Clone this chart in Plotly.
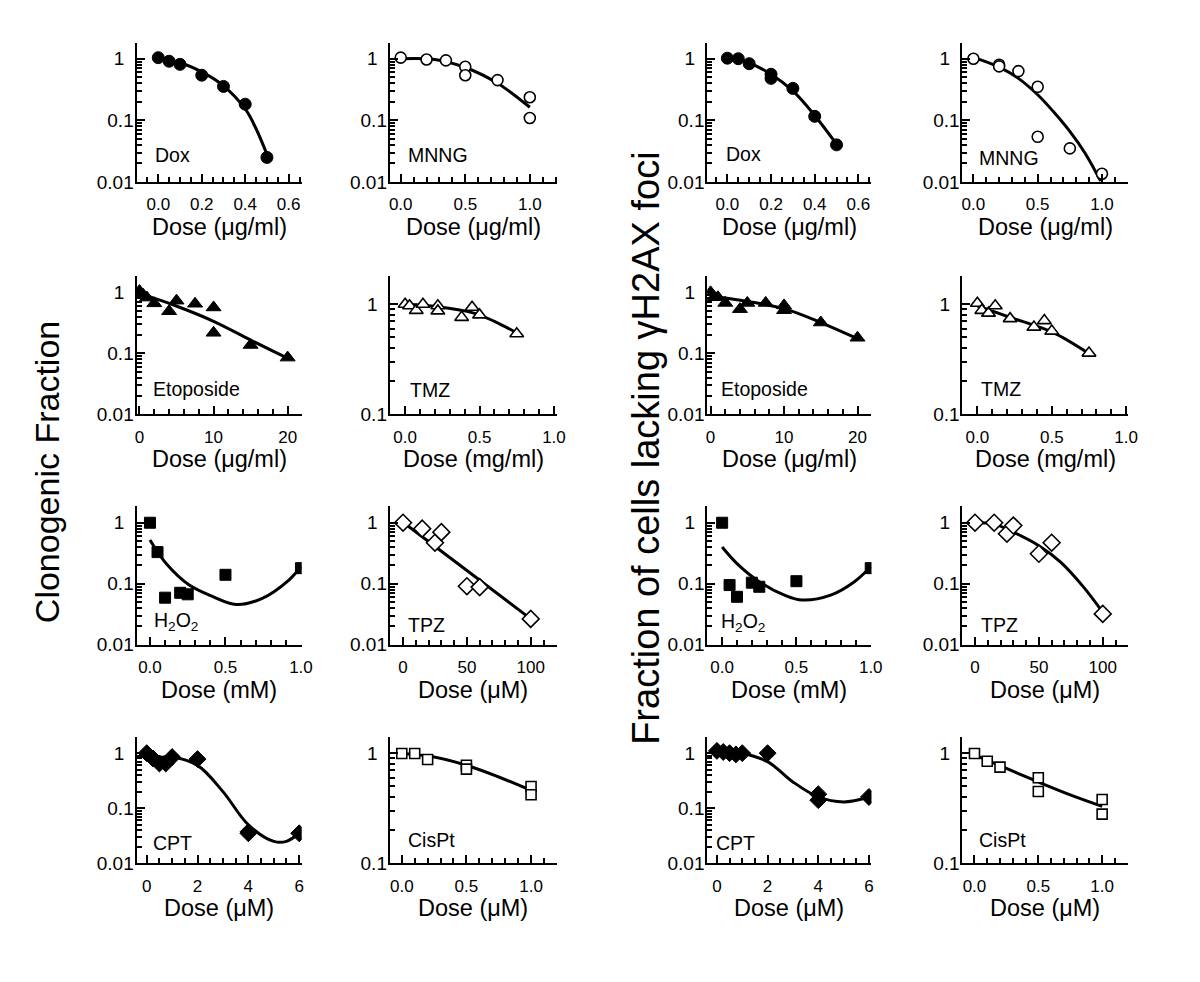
import plotly.graph_objects as go

FONT = "Liberation Sans, Arial, Helvetica, sans-serif"
W, H = 1200, 982

# ---------------- data ----------------
# Row 1 : Dox / MNNG
dox_clono_x = [0, 0.05, 0.1, 0.2, 0.3, 0.4, 0.5]
dox_clono_y = [1.04, 0.91, 0.81, 0.54, 0.355, 0.183, 0.025]
dox_clono_fit_x = [0, 0.1, 0.2, 0.3, 0.4, 0.45, 0.5]
dox_clono_fit_y = [1.0, 0.86, 0.61, 0.363, 0.153, 0.073, 0.028]

mnng_clono_x = [0, 0.2, 0.35, 0.5, 0.5, 0.75, 1.0, 1.0]
mnng_clono_y = [1.04, 0.97, 0.94, 0.74, 0.54, 0.45, 0.237, 0.109]
mnng_clono_fit_x = [0, 0.25, 0.5, 0.75, 1.0]
mnng_clono_fit_y = [1.0, 0.98, 0.72, 0.40, 0.163]

dox_gh2ax_x = [0, 0.05, 0.1, 0.2, 0.2, 0.3, 0.4, 0.5]
dox_gh2ax_y = [1.02, 1.0, 0.83, 0.56, 0.48, 0.33, 0.116, 0.04]
dox_gh2ax_fit_x = [0, 0.1, 0.2, 0.3, 0.4, 0.5]
dox_gh2ax_fit_y = [1.0, 0.85, 0.56, 0.30, 0.12, 0.041]

mnng_gh2ax_x = [0, 0.2, 0.2, 0.35, 0.5, 0.5, 0.75, 1.0]
mnng_gh2ax_y = [1.0, 0.80, 0.75, 0.63, 0.35, 0.054, 0.035, 0.0136]
mnng_gh2ax_fit_x = [0, 0.2, 0.35, 0.5, 0.62, 0.75, 0.87, 0.99]
mnng_gh2ax_fit_y = [1.05, 0.73, 0.48, 0.26, 0.14, 0.066, 0.029, 0.0103]

# Row 2 : Etoposide / TMZ
eto_clono_x = [0, 0.5, 1, 2, 4, 5, 7.5, 10, 10, 15, 20]
eto_clono_y = [1.05, 0.91, 0.82, 0.66, 0.49, 0.73, 0.65, 0.565, 0.217, 0.137, 0.085]
eto_clono_fit_x = [0, 4.6, 10, 15, 20]
eto_clono_fit_y = [0.96, 0.62, 0.335, 0.165, 0.083]

tmz_clono_x = [0, 0.03, 0.075, 0.12, 0.22, 0.22, 0.38, 0.45, 0.5, 0.75]
tmz_clono_y = [1.0, 0.97, 0.88, 1.0, 0.97, 0.87, 0.76, 0.94, 0.80, 0.54]
tmz_clono_fit_x = [0, 0.22, 0.45, 0.6, 0.75]
tmz_clono_fit_y = [1.0, 0.95, 0.84, 0.70, 0.55]

eto_gh2ax_x = [0, 0.5, 1, 2, 4, 5, 7.5, 10, 10, 15, 20]
eto_gh2ax_y = [1.0, 0.83, 0.83, 0.67, 0.53, 0.67, 0.67, 0.61, 0.51, 0.32, 0.18]
eto_gh2ax_fit_x = [0, 5, 10, 15, 20]
eto_gh2ax_fit_y = [0.88, 0.71, 0.54, 0.32, 0.174]

tmz_gh2ax_x = [0, 0.03, 0.075, 0.12, 0.22, 0.38, 0.45, 0.5, 0.75]
tmz_gh2ax_y = [1.02, 0.88, 0.83, 0.97, 0.74, 0.62, 0.71, 0.57, 0.36]
tmz_gh2ax_fit_x = [0, 0.22, 0.5, 0.75]
tmz_gh2ax_fit_y = [0.97, 0.76, 0.56, 0.355]

# Row 3 : H2O2 / TPZ
h2o2_clono_x = [0, 0.05, 0.1, 0.2, 0.25, 0.5, 1.0]
h2o2_clono_y = [1.0, 0.33, 0.059, 0.071, 0.067, 0.14, 0.18]
h2o2_clono_fit_x = [0, 0.11, 0.26, 0.42, 0.57, 0.74, 0.92, 1.0]
h2o2_clono_fit_y = [0.52, 0.21, 0.095, 0.061, 0.0457, 0.057, 0.115, 0.19]

tpz_clono_x = [0, 15, 25, 30, 50, 60, 100]
tpz_clono_y = [1.0, 0.80, 0.47, 0.70, 0.091, 0.088, 0.0265]
tpz_clono_fit_x = [0, 50, 100]
tpz_clono_fit_y = [1.02, 0.165, 0.0265]

h2o2_gh2ax_x = [0, 0.05, 0.1, 0.2, 0.25, 0.5, 1.0]
h2o2_gh2ax_y = [1.0, 0.095, 0.061, 0.104, 0.089, 0.11, 0.18]
h2o2_gh2ax_fit_x = [0, 0.1, 0.25, 0.42, 0.54, 0.73, 0.89, 1.0]
h2o2_gh2ax_fit_y = [0.40, 0.214, 0.108, 0.065, 0.054, 0.065, 0.108, 0.19]

tpz_gh2ax_x = [0, 15, 25, 30, 50, 60, 100]
tpz_gh2ax_y = [1.0, 1.0, 0.66, 0.90, 0.31, 0.47, 0.032]
tpz_gh2ax_fit_x = [0, 15, 30, 50, 67, 85, 100]
tpz_gh2ax_fit_y = [1.0, 0.95, 0.70, 0.42, 0.226, 0.088, 0.034]

# Row 4 : CPT / CisPt
cpt_clono_x = [0, 0.25, 0.5, 0.75, 1.0, 2.0, 4.0, 4.0, 6.0]
cpt_clono_y = [1.0, 0.8, 0.65, 0.65, 0.85, 0.78, 0.037, 0.035, 0.035]
cpt_clono_fit_x = [0, 0.5, 1, 2, 3, 4, 5, 5.5, 6]
cpt_clono_fit_y = [0.95, 0.85, 0.85, 0.6, 0.2, 0.05, 0.025, 0.025, 0.035]

cispt_clono_x = [0, 0.1, 0.2, 0.5, 0.5, 1.0, 1.0]
cispt_clono_y = [1.0, 1.0, 0.88, 0.78, 0.72, 0.5, 0.42]
cispt_clono_fit_x = [0, 0.25, 0.5, 0.75, 1.0]
cispt_clono_fit_y = [1.0, 0.93, 0.78, 0.61, 0.46]

cpt_gh2ax_x = [0, 0.25, 0.5, 0.75, 1.0, 2.0, 4.0, 4.0, 6.0]
cpt_gh2ax_y = [1.1, 1.05, 1.0, 0.95, 1.0, 1.0, 0.18, 0.14, 0.16]
cpt_gh2ax_fit_x = [0, 1, 2, 3, 4, 5, 6]
cpt_gh2ax_fit_y = [1.1, 1.0, 0.7, 0.3, 0.16, 0.13, 0.16]

cispt_gh2ax_x = [0, 0.1, 0.2, 0.5, 0.5, 1.0, 1.0]
cispt_gh2ax_y = [1.0, 0.85, 0.75, 0.6, 0.45, 0.38, 0.28]
cispt_gh2ax_fit_x = [0, 0.25, 0.5, 0.75, 1.0]
cispt_gh2ax_fit_y = [0.97, 0.73, 0.55, 0.42, 0.33]

# text
dose_ugml = "Dose (μg/ml)"
dose_mgml = "Dose (mg/ml)"
dose_mM = "Dose (mM)"
dose_uM = "Dose (μM)"
left_title = "Clonogenic Fraction"
right_title = "Fraction of cells lacking γH2AX foci"

# ---------------- styles ----------------
BLACK_FILL = dict(color="black", line=dict(color="black", width=1))
WHITE_FILL = dict(color="white", line=dict(color="black", width=1.6))

STY = {
    "Dox": dict(symbol="circle", size=12, **BLACK_FILL),
    "MNNG": dict(symbol="circle", size=11, **WHITE_FILL),
    "Etoposide": dict(symbol="triangle-up", size=13, **BLACK_FILL),
    "TMZ": dict(symbol="triangle-up", size=12, **WHITE_FILL),
    "H2O2": dict(symbol="square", size=11, **BLACK_FILL),
    "TPZ": dict(symbol="diamond", size=13, **WHITE_FILL),
    "CPT": dict(symbol="diamond", size=13, **BLACK_FILL),
    "CisPt": dict(symbol="square", size=10, **WHITE_FILL),
}

LABEL = {"Dox": "Dox", "MNNG": "MNNG", "Etoposide": "Etoposide", "TMZ": "TMZ",
         "H2O2": "H<sub>2</sub>O<sub>2</sub>", "TPZ": "TPZ", "CPT": "CPT", "CisPt": "CisPt"}

ROWS = [(43, 184), (279, 419), (512, 652), (745, 873)]
COLS = [(136, 303), (392, 561), (713, 879), (971, 1138)]

panels = [
    # row 1
    dict(k="Dox", r=0, c=0, x=dox_clono_x, y=dox_clono_y, fx=dox_clono_fit_x, fy=dox_clono_fit_y,
         xr=[-0.1, 0.66], dt=0.2, mdt=0.05, fmt=".1f", yr=[-2, 0.263], t=dose_ugml, lp=(0.10, 0.19)),
    dict(k="MNNG", r=0, c=1, x=mnng_clono_x, y=mnng_clono_y, fx=mnng_clono_fit_x, fy=mnng_clono_fit_y,
         xr=[-0.085, 1.21], dt=0.5, mdt=0.1, fmt=".1f", yr=[-2, 0.263], t=dose_ugml, lp=(0.096, 0.19)),
    dict(k="Dox", r=0, c=2, x=dox_gh2ax_x, y=dox_gh2ax_y, fx=dox_gh2ax_fit_x, fy=dox_gh2ax_fit_y,
         xr=[-0.092, 0.66], dt=0.2, mdt=0.05, fmt=".1f", yr=[-2, 0.263], t=dose_ugml, lp=(0.10, 0.20)),
    dict(k="MNNG", r=0, c=3, x=mnng_gh2ax_x, y=mnng_gh2ax_y, fx=mnng_gh2ax_fit_x, fy=mnng_gh2ax_fit_y,
         xr=[-0.085, 1.2], dt=0.5, mdt=0.1, fmt=".1f", yr=[-2, 0.263], t=dose_ugml, lp=(0.088, 0.175)),
    # row 2
    dict(k="Etoposide", r=1, c=0, x=eto_clono_x, y=eto_clono_y, fx=eto_clono_fit_x, fy=eto_clono_fit_y,
         xr=[-0.4, 21.9], dt=10, mdt=2, fmt="d", yr=[-2, 0.27], t=dose_ugml, lp=(0.09, 0.18)),
    dict(k="TMZ", r=1, c=1, x=tmz_clono_x, y=tmz_clono_y, fx=tmz_clono_fit_x, fy=tmz_clono_fit_y,
         xr=[-0.103, 1.02], dt=0.5, mdt=0.1, fmt=".1f", yr=[-1, 0.258], t=dose_mgml, lp=(0.107, 0.176)),
    dict(k="Etoposide", r=1, c=2, x=eto_gh2ax_x, y=eto_gh2ax_y, fx=eto_gh2ax_fit_x, fy=eto_gh2ax_fit_y,
         xr=[-0.45, 21.9], dt=10, mdt=2, fmt="d", yr=[-2, 0.27], t=dose_ugml, lp=(0.073, 0.18)),
    dict(k="TMZ", r=1, c=3, x=tmz_gh2ax_x, y=tmz_gh2ax_y, fx=tmz_gh2ax_fit_x, fy=tmz_gh2ax_fit_y,
         xr=[-0.1, 1.01], dt=0.5, mdt=0.1, fmt=".1f", yr=[-1, 0.258], t=dose_mgml, lp=(0.10, 0.18)),
    # row 3
    dict(k="H2O2", r=2, c=0, x=h2o2_clono_x, y=h2o2_clono_y, fx=h2o2_clono_fit_x, fy=h2o2_clono_fit_y,
         xr=[-0.089, 1.005], dt=0.5, mdt=0.1, fmt=".1f", yr=[-2, 0.27], t=dose_mM, lp=(0.096, 0.17)),
    dict(k="TPZ", r=2, c=1, x=tpz_clono_x, y=tpz_clono_y, fx=tpz_clono_fit_x, fy=tpz_clono_fit_y,
         xr=[-10.4, 120.5], dt=50, mdt=10, fmt="d", yr=[-2, 0.27], t=dose_uM, lp=(0.10, 0.14)),
    dict(k="H2O2", r=2, c=2, x=h2o2_gh2ax_x, y=h2o2_gh2ax_y, fx=h2o2_gh2ax_fit_x, fy=h2o2_gh2ax_fit_y,
         xr=[-0.1, 1.005], dt=0.5, mdt=0.1, fmt=".1f", yr=[-2, 0.27], t=dose_mM, lp=(0.07, 0.16)),
    dict(k="TPZ", r=2, c=3, x=tpz_gh2ax_x, y=tpz_gh2ax_y, fx=tpz_gh2ax_fit_x, fy=tpz_gh2ax_fit_y,
         xr=[-9.8, 119.5], dt=50, mdt=10, fmt="d", yr=[-2, 0.27], t=dose_uM, lp=(0.10, 0.14)),
    # row 4
    dict(k="CPT", r=3, c=0, x=cpt_clono_x, y=cpt_clono_y, fx=cpt_clono_fit_x, fy=cpt_clono_fit_y,
         xr=[-0.4, 6.1], dt=2, mdt=0.5, fmt="d", yr=[-2, 0.3], t=dose_uM, lp=(0.085, 0.16)),
    dict(k="CisPt", r=3, c=1, x=cispt_clono_x, y=cispt_clono_y, fx=cispt_clono_fit_x, fy=cispt_clono_fit_y,
         xr=[-0.093, 1.2], dt=0.5, mdt=0.1, fmt=".1f", yr=[-1, 0.153], t=dose_uM, lp=(0.10, 0.18)),
    dict(k="CPT", r=3, c=2, x=cpt_gh2ax_x, y=cpt_gh2ax_y, fx=cpt_gh2ax_fit_x, fy=cpt_gh2ax_fit_y,
         xr=[-0.38, 6.1], dt=2, mdt=0.5, fmt="d", yr=[-2, 0.3], t=dose_uM, lp=(0.04, 0.16)),
    dict(k="CisPt", r=3, c=3, x=cispt_gh2ax_x, y=cispt_gh2ax_y, fx=cispt_gh2ax_fit_x, fy=cispt_gh2ax_fit_y,
         xr=[-0.094, 1.2], dt=0.5, mdt=0.1, fmt=".1f", yr=[-1, 0.153], t=dose_uM, lp=(0.085, 0.18)),
]


def log_minor(lo_exp, hi_exp):
    vals = []
    for e in range(lo_exp, hi_exp):
        for m in range(2, 10):
            vals.append(m * 10 ** e)
    return vals


fig = go.Figure()
layout_axes = {}
annotations = []
XTICKFONT = dict(family=FONT, size=17, color="black")
YTICKFONT = dict(family=FONT, size=19, color="black")

for i, p in enumerate(panels, start=1):
    xa = "x" if i == 1 else f"x{i}"
    ya = "y" if i == 1 else f"y{i}"
    xk = "xaxis" if i == 1 else f"xaxis{i}"
    yk = "yaxis" if i == 1 else f"yaxis{i}"

    fig.add_trace(go.Scatter(x=p["fx"], y=p["fy"], mode="lines",
                             line=dict(color="black", width=3, shape="spline", smoothing=1.0),
                             xaxis=xa, yaxis=ya, showlegend=False, hoverinfo="skip"))
    fig.add_trace(go.Scatter(x=p["x"], y=p["y"], mode="markers", marker=STY[p["k"]],
                             xaxis=xa, yaxis=ya, showlegend=False))

    cl, cr = COLS[p["c"]]
    rt, rb = ROWS[p["r"]]
    layout_axes[xk] = dict(
        domain=[cl / W, cr / W], anchor=ya, range=p["xr"],
        showline=True, linecolor="black", linewidth=2,
        ticks="inside", ticklen=8, tickwidth=1.5, tickcolor="black",
        tick0=0, dtick=p["dt"], tickformat=p["fmt"], tickfont=XTICKFONT,
        ticklabelstandoff=6,
        minor=dict(tick0=0, dtick=p["mdt"], ticks="inside", ticklen=5,
                   tickwidth=1.5, tickcolor="black", showgrid=False),
        showgrid=False, zeroline=False, fixedrange=True,
    )
    lo = int(round(p["yr"][0]))
    if lo == -2:
        tv, tt = [0.01, 0.1, 1], ["0.01", "0.1", "1\u2002"]
    else:
        tv, tt = [0.1, 1], ["0.1", "1\u2002"]
    layout_axes[yk] = dict(
        type="log", domain=[1 - rb / H, 1 - rt / H], anchor=xa, range=p["yr"],
        showline=True, linecolor="black", linewidth=2,
        tickmode="array", tickvals=tv, ticktext=tt,
        ticks="inside", ticklen=8, tickwidth=1.5, tickcolor="black", tickfont=YTICKFONT,
        ticklabelstandoff=-3,
        minor=dict(tickmode="array", tickvals=log_minor(lo, 0), ticks="inside", ticklen=5,
                   tickwidth=1.5, tickcolor="black", showgrid=False),
        showgrid=False, zeroline=False, fixedrange=True,
    )
    # panel label
    annotations.append(dict(text=LABEL[p["k"]], xref=f"{xa} domain", yref=f"{ya} domain",
                            x=p["lp"][0], y=p["lp"][1], xanchor="left", yanchor="middle",
                            showarrow=False, font=dict(family=FONT, size=19.5, color="black")))
    # x title
    annotations.append(dict(text=p["t"], xref=f"{xa} domain", yref=f"{ya} domain",
                            x=0.5, y=0, yshift=-45, xanchor="center", yanchor="middle",
                            showarrow=False, font=dict(family=FONT, size=23.5, color="black")))

annotations.append(dict(text=left_title, xref="paper", yref="paper", x=45 / W, y=1 - 478 / H,
                        textangle=-90, xanchor="center", yanchor="middle", showarrow=False,
                        font=dict(family=FONT, size=34, color="black")))
annotations.append(dict(text=right_title, xref="paper", yref="paper", x=651 / W, y=1 - 453 / H,
                        textangle=-90, xanchor="center", yanchor="middle", showarrow=False,
                        font=dict(family=FONT, size=38, color="black")))

fig.update_layout(
    width=W, height=H, margin=dict(l=0, r=0, t=0, b=0),
    paper_bgcolor="white", plot_bgcolor="white",
    showlegend=False, annotations=annotations, **layout_axes,
)

fig.write_html("out.html", config={"displayModeBar": False},
               post_script="document.body.style.margin='0px';")
